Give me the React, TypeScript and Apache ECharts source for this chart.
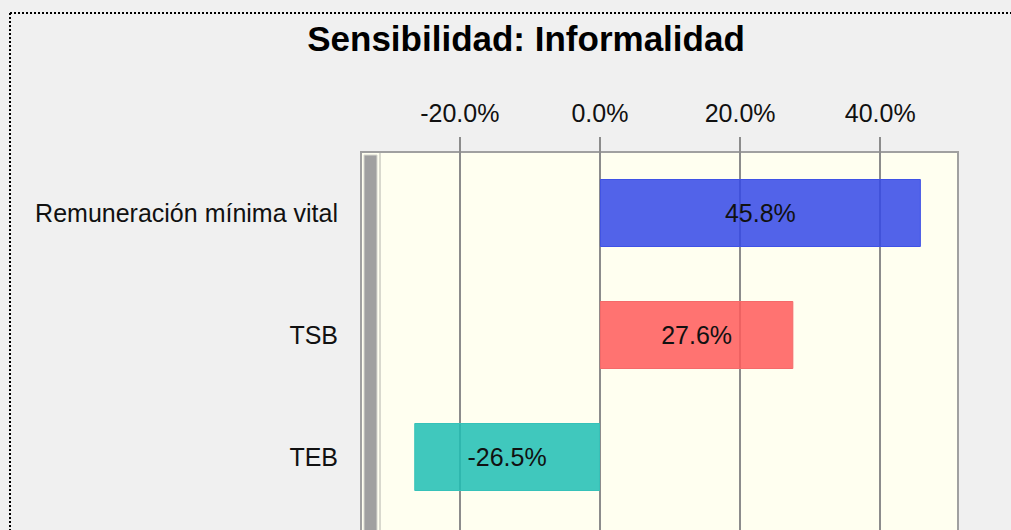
import React, { useEffect, useRef } from "react";
import * as echarts from "echarts";

const categories = ["Remuneración mínima vital", "TSB", "TEB"];
const values = [45.8, 27.6, -26.5];
const barColors = ["rgba(52,72,231,0.85)", "rgba(255,90,90,0.85)", "rgba(30,190,180,0.85)"];
const barBorders = ["#3f52e6", "#f46a6a", "#36c2b9"];
const tickValues = [-20, 0, 20, 40];
const axisMin = -34.1;
const axisMax = 51.1;
const title = "Sensibilidad: Informalidad";

export default function App() {
  const ref = useRef<HTMLDivElement>(null);
  useEffect(() => {
    if (!ref.current) return;
    const chart = echarts.init(ref.current, null, { renderer: "svg" });
    const font = "'Liberation Sans', Arial, sans-serif";
    // one extra empty band below (cut off by the picture edge)
    const yCats = [...categories, ""];
    chart.setOption({
      animation: false,
      backgroundColor: "#f0f0f0",
      title: {
        text: title,
        left: 521,
        top: 16,
        textAlign: "center",
        textStyle: { fontFamily: font, fontWeight: "bold", fontSize: 35, color: "#000" },
      },
      grid: {
        left: 361,
        top: 152,
        width: 597,
        height: 488,
        outerBoundsMode: "none",
        containLabel: false,
        show: true,
        backgroundColor: "#fffff0",
        borderColor: "#a0a0a0",
        borderWidth: 2,
      },
      xAxis: {
        type: "value",
        position: "top",
        min: axisMin,
        max: axisMax,
        axisLine: { show: false },
        axisTick: {
          show: true,
          length: 15,
          customValues: tickValues,
          lineStyle: { color: "#8c8c8c", width: 2 },
        },
        axisLabel: {
          customValues: tickValues,
          margin: 27,
          fontFamily: font,
          fontSize: 25,
          color: "#111",
          formatter: (v: number) => v.toFixed(1) + "%",
        },
        splitLine: { show: true, lineStyle: { color: "#8c8c8c", width: 2 } },
      },
      yAxis: {
        type: "category",
        data: yCats,
        inverse: true,
        axisLine: { show: false },
        axisTick: { show: false },
        axisLabel: {
          margin: 23,
          fontFamily: font,
          fontSize: 25,
          color: "#111",
        },
        splitLine: { show: false },
      },
      series: [
        {
          type: "bar",
          barWidth: 68,
          data: values.map((v, i) => ({
            value: v,
            itemStyle: { color: barColors[i], borderColor: barBorders[i], borderWidth: 1 },
          })),
          label: {
            show: true,
            position: "inside",
            fontFamily: font,
            fontSize: 25,
            color: "#111",
            formatter: (p: any) => Number(p.value).toFixed(1) + "%",
          },
        },
      ],
      graphic: [
        {
          type: "rect",
          shape: { x: 364, y: 155, width: 13, height: 400 },
          style: { fill: "#a0a0a0", stroke: "#d8d8d0", lineWidth: 1 },
          z: 10,
        },
        {
          type: "line",
          shape: { x1: 380, y1: 153, x2: 380, y2: 560 },
          style: { stroke: "#b4b4ac", lineWidth: 1 },
          z: 10,
        },
        {
          type: "line",
          shape: { x1: 10, y1: 13, x2: 1011, y2: 13 },
          style: { stroke: "#000", lineWidth: 2, lineDash: [2, 2] },
        },
        {
          type: "line",
          shape: { x1: 10, y1: 13, x2: 10, y2: 530 },
          style: { stroke: "#000", lineWidth: 2, lineDash: [2, 2] },
        },
      ],
    });
    return () => chart.dispose();
  }, []);
  return (
    <div
      ref={ref}
      style={{ position: "absolute", left: 0, top: 0, width: 1011, height: 530 }}
    />
  );
}
